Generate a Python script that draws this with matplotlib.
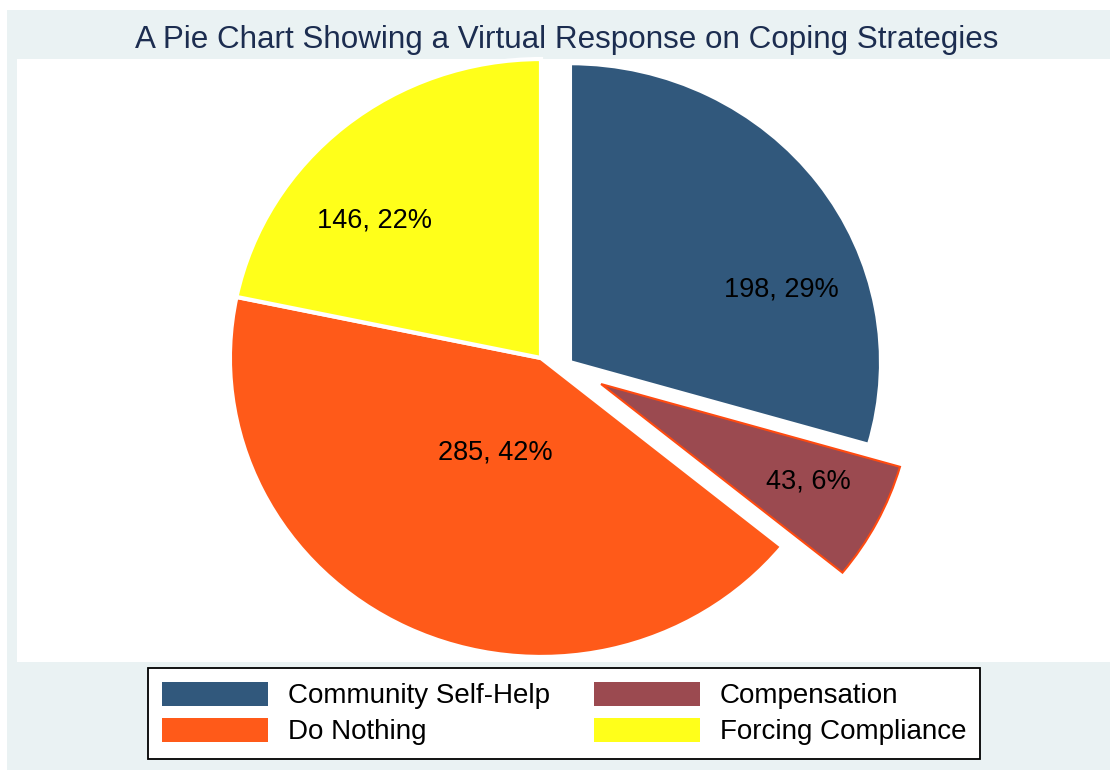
import matplotlib.pyplot as plt
from matplotlib.patches import Rectangle

plt.rcParams['font.family'] = ['Liberation Sans', 'DejaVu Sans']

strategies = ['Community Self-Help', 'Compensation', 'Do Nothing', 'Forcing Compliance']
counts = [198, 43, 285, 146]
colors = ['#31587C', '#9B4A50', '#FF5A19', '#FFFF1A']

# slice shifts (pie radius units) and label spots
shifts = [(0.094, -0.014), (0.195, -0.088), (0.0, 0.0), (0.0, 0.0)]
label_xy = [(0.779, 0.230), (0.867, -0.416), (-0.149, -0.318), (-0.539, 0.463)]

W, H = 1110, 770
fig = plt.figure(figsize=(W / 100, H / 100), dpi=100)
fig.patch.set_facecolor('white')

# outer graph region
fig.patches.append(Rectangle((7 / W, 0), 1 - 7 / W, 1 - 10 / H, transform=fig.transFigure,
                             facecolor='#EAF2F3', edgecolor='none', zorder=-5))

# plot region in pixels: x 17..1110, y 59..662
ax = fig.add_axes([17 / W, 1 - 662 / H, (W - 17) / W, (662 - 59) / H])
ax.set_zorder(1)
cx, cy, rx, ry = 541, 358, 308, 296

total = sum(counts)
wedges, texts, autotexts = ax.pie(
    counts, startangle=90, counterclock=False, colors=colors, radius=1.01,
    autopct=lambda p: '%d, %d%%' % (round(p * total / 100), round(p)),
    wedgeprops=dict(edgecolor='white', linewidth=3), frame=True,
    textprops=dict(fontsize=19.5, color='black'))
ax.set_aspect('auto')
ax.set_facecolor('white')
ax.set_xlim(-(cx - 17) / rx, (W - cx) / rx)
ax.set_ylim(-(662 - cy) / ry, (cy - 59) / ry)
ax.set_xticks([]); ax.set_yticks([])
for s in ax.spines.values():
    s.set_visible(False)

wedges[1].set_edgecolor('#FF4A10')
wedges[1].set_linewidth(1.5)
for w, (dx, dy) in zip(wedges, shifts):
    w.set_center((dx, dy))
for t, (lx, ly) in zip(autotexts, label_xy):
    t.set_position((lx, ly))
    t.set_ha('center'); t.set_va('center')

fig.text(567 / W, 1 - 40 / H, 'A Pie Chart Showing a Virtual Response on Coping Strategies',
         ha='center', va='center', fontsize=22.6, color='#1C2D50')

order = [0, 2, 1, 3]
leg = fig.legend([wedges[i] for i in order], [strategies[i] for i in order],
                 loc='center', bbox_to_anchor=(564 / W, 1 - 713.5 / H), ncol=2,
                 fontsize=20, handlelength=3.8, handleheight=0.97, handletextpad=0.72,
                 columnspacing=1.6, labelspacing=0.3, borderpad=0.5,
                 fancybox=False, framealpha=1, edgecolor='black')
leg.get_frame().set_linewidth(1.3)
for h, i in zip(leg.legend_handles, order):
    h.set_edgecolor('none')
    h.set_facecolor(colors[i])

fig.savefig('out.png', dpi=100)
